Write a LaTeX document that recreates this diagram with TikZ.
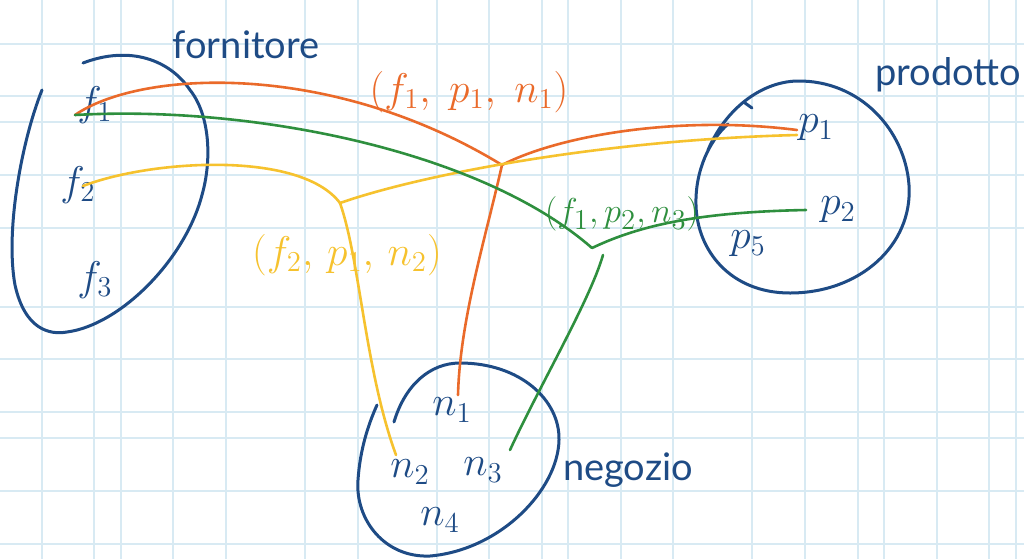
\documentclass[tikz,border=0pt]{standalone}
\usepackage{fontspec}
\setsansfont{Lato}
\definecolor{navy}{HTML}{1E4B85}
\definecolor{ora}{HTML}{EA6A2A}
\definecolor{yel}{HTML}{F6C22E}
\definecolor{grn}{HTML}{2E8F3E}
\definecolor{gridc}{HTML}{D8EAF3}
\tikzset{
  gridln/.style={draw=gridc, line width=1pt},
  setline/.style={draw=navy, line width=1.5pt, line cap=round, line join=round},
  rel/.style={line width=1.3pt, line cap=round, line join=round},
  lbl/.style={font=\fontsize{20}{24}\selectfont, inner sep=0pt, text=navy},
  word/.style={font=\sffamily\fontsize{19}{22}\selectfont, inner sep=0pt, text=navy},
  tup/.style={font=\fontsize{20}{24}\selectfont, inner sep=0pt}
}
\begin{document}
\begin{tikzpicture}[x=0.5pt,y=-0.5pt]
\fill[white] (0,0) rectangle (1024,559);
\useasboundingbox (0,0) rectangle (1024,559);
% grid paper
\foreach \k in {0,2,3,5,7,10,12,15,17,19,20,22,24,27,29,31,32,34,36,37}
  \draw[gridln] ({41.7+26.32*\k},0) -- ({41.7+26.32*\k},559);
\foreach \k in {1,3,4,6,8,11,13,15,16,18,20}
  \draw[gridln] (0,{17.2+26.32*\k}) -- (1024,{17.2+26.32*\k});

% set outlines
\draw[setline] (42,90) .. controls (22,140) and (5,230) .. (15,285)
  .. controls (25,330) and (50,335) .. (67,332)
  .. controls (120,325) and (185,260) .. (202,195)
  .. controls (212,160) and (210,115) .. (190,90)
  .. controls (170,60) and (130,45) .. (83,63);
\draw[setline] (708,150) .. controls (725,110) and (760,82) .. (797,81)
  .. controls (860,80) and (905,130) .. (909,185)
  .. controls (913,245) and (860,293) .. (790,293)
  .. controls (730,293) and (697,250) .. (696,205)
  .. controls (695,170) and (710,140) .. (728,124);
\draw[setline] (745,103) -- (752,108);
\draw[setline] (394,422) .. controls (405,385) and (430,363) .. (460,363)
  .. controls (520,363) and (560,400) .. (559,440)
  .. controls (558,490) and (500,550) .. (430,556)
  .. controls (385,558) and (355,520) .. (358,480)
  .. controls (360,450) and (368,425) .. (377,405);

% element labels
\node[lbl] (f1) at (95,105) {$f_1$};
\node[lbl] (f2) at (78,185) {$f_2$};
\node[lbl] (f3) at (95,280) {$f_3$};
\node[lbl] (p1) at (816,128) {$p_1$};
\node[lbl] (p2) at (838,210) {$p_2$};
\node[lbl] (p5) at (748,244) {$p_5$};
\node[lbl] (n1) at (452,410) {$n_1$};
\node[lbl] (n2) at (410,472) {$n_2$};
\node[lbl] (n3) at (483,470) {$n_3$};
\node[lbl] (n4) at (440,520) {$n_4$};

% set names
\node[word] (forn) at (246,45) {fornitore};
\node[word] (prod) at (948,75) {prodotto};
\node[word] (neg) at (628,470) {negozio};

% tuple labels
\node[tup, text=ora] (t1) at (469,92) {$(f_1,\; p_1,\; n_1)$};
\node[tup, text=yel] (t2) at (347,255) {$(f_2,\, p_1,\, n_2)$};
\node[tup, text=grn, font=\fontsize{19}{22}\selectfont] (t3) at (622,214) {$(f_1, p_2, n_3)$};

% connector ends
\coordinate (f1a) at (75,115);
\coordinate (f2a) at (83,186);
\coordinate (p1a) at (797,130);
\coordinate (p1b) at (797,135);
\coordinate (p2a) at (806,210);
\coordinate (n1a) at (458,395);
\coordinate (n2a) at (396,455);
\coordinate (n3a) at (510,450);
\coordinate (jo) at (502,165);
\coordinate (jy) at (340,203);
\coordinate (jg) at (592,248);
\coordinate (jg2) at (603,255);

% orange (f1,p1,n1)
\draw[rel, ora] (f1a) .. controls (140,70) and (330,60) .. (jo);
\draw[rel, ora] (jo) .. controls (560,135) and (680,115) .. (p1a);
\draw[rel, ora] (jo) .. controls (485,240) and (460,320) .. (n1a);
% yellow (f2,p1,n2)
\draw[rel, yel] (f2a) .. controls (150,160) and (300,150) .. (jy);
\draw[rel, yel] (jy) .. controls (420,175) and (600,140) .. (p1b);
\draw[rel, yel] (jy) .. controls (360,260) and (365,370) .. (n2a);
% green (f1,p2,n3)
\draw[rel, grn] (f1a) .. controls (250,105) and (480,150) .. (jg);
\draw[rel, grn] (jg) .. controls (640,225) and (700,212) .. (p2a);
\draw[rel, grn] (jg2) .. controls (590,300) and (540,385) .. (n3a);
\end{tikzpicture}
\end{document}
